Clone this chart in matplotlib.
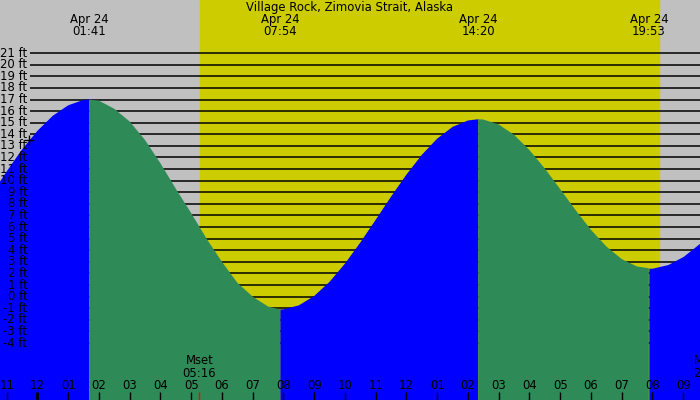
import matplotlib
matplotlib.use("Agg")
import matplotlib.pyplot as plt
import matplotlib.transforms as mtransforms

# tide heights (ft), hours since midnight Apr 24
hours = [-1.5, -1.0, -0.5, 0.0, 0.5, 1.0, 1.5, 1.683, 2.0, 2.5, 3.0, 3.5, 4.0,
         4.5, 5.0, 5.5, 6.0, 6.5, 7.0, 7.5, 7.9, 8.0, 8.5, 9.0, 9.5, 10.0,
         10.5, 11.0, 11.5, 12.0, 12.5, 13.0, 13.5, 14.0, 14.333, 14.5, 15.0,
         15.5, 16.0, 16.5, 17.0, 17.5, 18.0, 18.5, 19.0, 19.5, 19.883, 20.0,
         20.5, 21.0, 21.5, 22.0]
heights = [8.8, 10.8, 12.7, 14.3, 15.6, 16.5, 16.97, 17.0, 16.9, 16.2, 15.1,
           13.5, 11.5, 9.3, 7.2, 5.0, 3.0, 1.2, 0.0, -0.85, -1.1, -1.09, -0.75,
           0.06, 1.28, 2.85, 4.67, 6.63, 8.63, 10.53, 12.23, 13.63, 14.64,
           15.19, 15.3, 15.27, 14.85, 13.95, 12.64, 11.05, 9.27, 7.46, 5.76,
           4.33, 3.24, 2.6, 2.45, 2.46, 2.77, 3.47, 4.53, 5.87]

# high / low tides
extreme_hours = [1.683, 7.9, 14.333, 19.883]
extreme_times = ["01:41", "07:54", "14:20", "19:53"]
extreme_date = "Apr 24"

sunrise_h = 5.29
sunset_h = 20.21
moonset_h = 5.267
moonset_label = "Mset\n05:16"
moonrise_h = 21.87
moonrise_label = "Mrise\n21:52"

hour_ticks = list(range(-1, 22))
hour_labels = ["11", "12", "01", "02", "03", "04", "05", "06", "07", "08",
               "09", "10", "11", "12", "01", "02", "03", "04", "05", "06",
               "07", "08", "09"]
ft_levels = list(range(-4, 22))

title = "Village Rock, Zimovia Strait, Alaska"

plt.rcParams['font.family'] = ['DejaVu Sans']
fs = 8.4

fig = plt.figure(figsize=(7, 4), dpi=100)
ax = fig.add_axes([0, 0, 1, 1])
ax.set_xlim(-1.218, 21.546)
ax.set_ylim(-8.91, 25.58)
ax.axis('off')
ax.set_facecolor('#c0c0c0')
fig.patch.set_facecolor('#c0c0c0')

# day
ax.axvspan(sunrise_h, sunset_h, color='#cccc00', zorder=0)

# grid lines
ax.hlines(ft_levels, -0.242, 21.6, color='black', lw=1.1, zorder=1)

# tide fill, blue while rising, green while falling
cuts = [0] + [hours.index(h) for h in extreme_hours] + [len(hours) - 1]
for k in range(len(cuts) - 1):
    a, b = cuts[k], cuts[k + 1] + 1
    col = '#0000ff' if k % 2 == 0 else '#2e8b57'
    ax.fill_between(hours[a:b], heights[a:b], -20, color=col, lw=0, zorder=2)

# y labels
for lv in ft_levels:
    ax.text(-0.33, lv, f"{lv} ft", ha='right', va='center', fontsize=fs, zorder=5)

ax.plot([-0.27], [13.5], marker='+', color='black', ms=7, mew=1, zorder=5)

trans = mtransforms.blended_transform_factory(ax.transData, ax.transAxes)

ax.text(0.5, 0.982, title, transform=ax.transAxes, ha='center', va='center',
        fontsize=fs, zorder=5)
for h, t in zip(extreme_hours, extreme_times):
    ax.text(h, 0.95, extreme_date, transform=trans, ha='center', va='center',
            fontsize=fs, zorder=5)
    ax.text(h, 0.921, t, transform=trans, ha='center', va='center',
            fontsize=fs, zorder=5)

# hour axis
for h, lb in zip(hour_ticks, hour_labels):
    ax.text(h, 0.036, lb, transform=trans, ha='center', va='center',
            fontsize=fs, zorder=5)
    lw = 2.0 if h == 0 else 1.0
    ax.plot([h, h], [0, 0.02], transform=trans, color='black', lw=lw,
            zorder=5, solid_capstyle='butt')

# moon
ax.plot([moonset_h, moonset_h], [0, 0.02], transform=trans, color='red',
        lw=1.0, zorder=5, solid_capstyle='butt')
ax.text(moonset_h, 0.083, moonset_label, transform=trans, ha='center',
        va='center', fontsize=fs, zorder=5, linespacing=1.0)
ax.text(moonrise_h, 0.083, moonrise_label, transform=trans, ha='center',
        va='center', fontsize=fs, zorder=5, linespacing=1.0)

fig.savefig('out.png', dpi=100, facecolor=fig.get_facecolor())
